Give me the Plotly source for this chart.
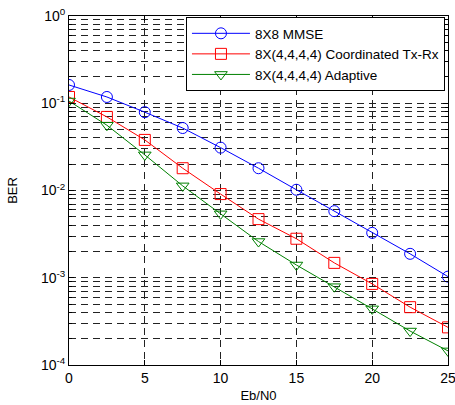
import plotly.graph_objects as go

# Eb/N0 sweep (dB)
ebn0 = [0, 2.5, 5, 7.5, 10, 12.5, 15, 17.5, 20, 22.5, 25]

# Bit error rate for each scheme
ber_mmse = [0.162, 0.118, 0.079, 0.052, 0.031, 0.018, 0.0102, 0.0058, 0.00327, 0.00188, 0.00103]
ber_coord = [0.118, 0.0697, 0.038, 0.018, 0.0091, 0.0047, 0.0028, 0.00148, 0.00085, 0.00046, 0.00027]
ber_adapt = [0.106, 0.056, 0.0256, 0.0113, 0.0054, 0.0026, 0.0014, 0.00079, 0.00044, 0.000245, 0.000145]

names = ["8X8 MMSE", "8X(4,4,4,4) Coordinated Tx-Rx", "8X(4,4,4,4) Adaptive"]
colors = ["#0000ff", "#ff0000", "#008000"]
symbols = ["circle-open", "square-open", "triangle-down-open"]
series = [ber_mmse, ber_coord, ber_adapt]

x_ticks = [0, 5, 10, 15, 20, 25]
y_exponents = [-4, -3, -2, -1, 0]
y_ticks = [10.0 ** e for e in y_exponents]
y_labels = ["10<sup>%d</sup>" % e for e in y_exponents]
# minor grid at 2..9 within each decade
y_minor = [m * 10.0 ** e for e in y_exponents[:-1] for m in range(2, 10)]

fig = go.Figure()
for name, col, sym, ys in zip(names, colors, symbols, series):
    fig.add_trace(go.Scatter(
        x=ebn0, y=ys, name=name, mode="lines+markers",
        line=dict(color=col, width=1),
        marker=dict(symbol=sym, size=11, color=col, line=dict(width=1, color=col)),
    ))

font = dict(family="Liberation Sans, Arial, sans-serif", color="black")
grid_dash = "7px,5px"

fig.update_layout(
    width=455, height=405,
    margin=dict(l=69, r=7, t=16, b=40, autoexpand=False),
    plot_bgcolor="white", paper_bgcolor="white",
    font=dict(size=13, **font),
    showlegend=True,
    legend=dict(
        x=0.992, y=0.997, xanchor="right", yanchor="top",
        bgcolor="white", bordercolor="black", borderwidth=1,
        font=dict(size=13.5, **font),
        tracegroupgap=0, itemwidth=58,
    ),
    xaxis=dict(
        range=[0, 25], tickvals=x_ticks, ticktext=[str(v) for v in x_ticks],
        showgrid=True, gridcolor="#222", griddash=grid_dash, gridwidth=1,
        showline=True, linecolor="black", linewidth=1, mirror="ticks",
        ticks="inside", ticklen=5, tickcolor="black",
        zeroline=False, automargin=False, ticklabeloverflow="allow",
        title=dict(text="Eb/N0", font=dict(size=13, **font), standoff=6),
        tickfont=dict(size=14, **font),
    ),
    yaxis=dict(
        type="log", range=[-4, 0], tickvals=y_ticks, ticktext=y_labels,
        showgrid=True, gridcolor="#222", griddash=grid_dash, gridwidth=1,
        showline=True, linecolor="black", linewidth=1, mirror="ticks",
        ticks="inside", ticklen=5, tickcolor="black",
        zeroline=False, automargin=False, ticklabeloverflow="allow",
        minor=dict(tickmode="array", tickvals=y_minor,
                   showgrid=True, gridcolor="#222", griddash=grid_dash, gridwidth=1,
                   ticks="inside", ticklen=3, tickcolor="black"),
        title=dict(text="BER", font=dict(size=13, **font), standoff=20),
        tickfont=dict(size=14, **font),
    ),
)

fig.write_html("out.html")
